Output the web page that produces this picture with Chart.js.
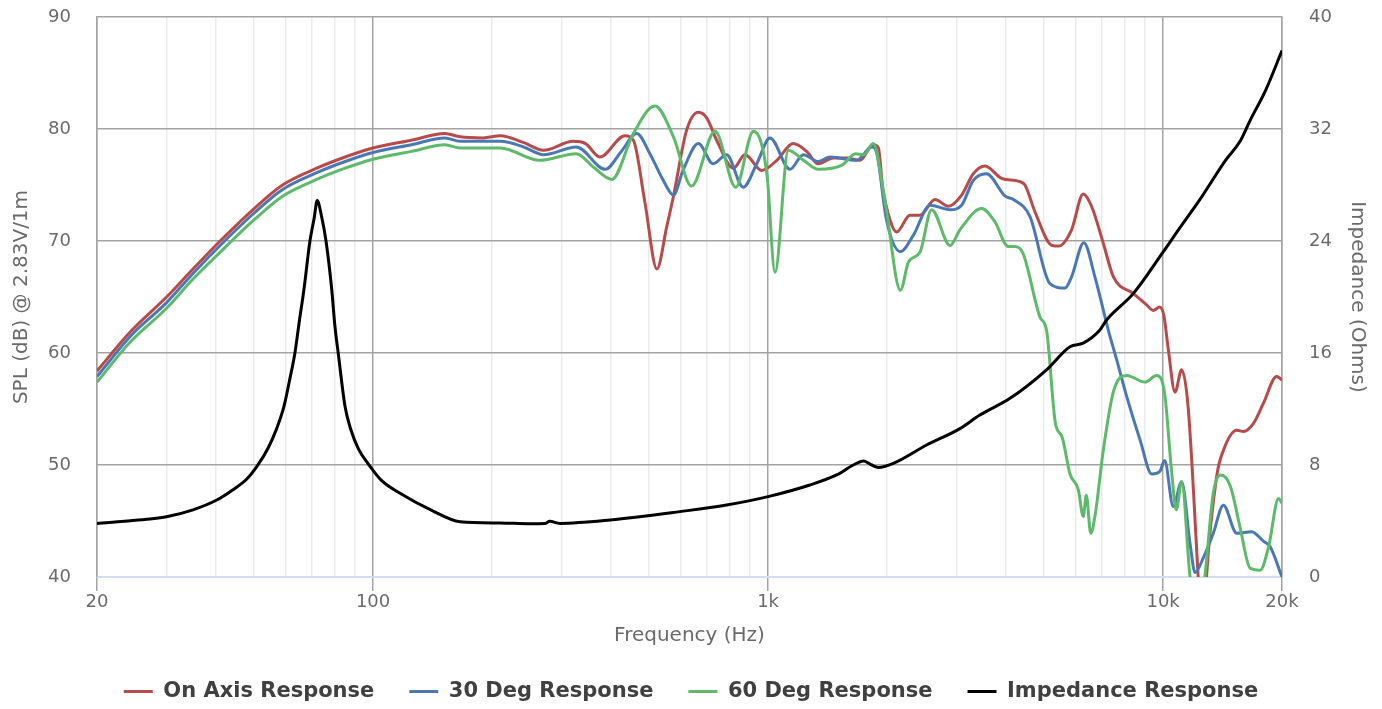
<!DOCTYPE html>
<html>
<head>
<meta charset="utf-8">
<script src="https://cdn.jsdelivr.net/npm/chart.js@4.4.1/dist/chart.umd.min.js"></script>
<style>
  html, body { margin: 0; padding: 0; background: #ffffff; }
  #wrap { width: 1382px; height: 709px; }
</style>
</head>
<body>
<div id="wrap"><canvas id="c" width="1382" height="709"></canvas></div>
<script>
// ---- Data ----
const onAxisFreq = [20,24.3,30,35,41,50,59,72,85,100,125,152,166,190,210,240,270,321,345,375,434,456,488,523,554,576,622,666,699,741,817,874,964,1052,1158,1252,1339,1462,1579,1708,1846,1902,1950,2035,2116,2286,2424,2646,2858,3090,3307,3540,3900,4342,4470,4751,5236,5440,5865,6278,6590,7056,7486,8413,9084,9440,9800,10050,10310,10720,11140,11570,12270,12600,12880,13666,14210,15360,15970,16920,17940,19390,20000];
const onAxisSpl = [58.4,61.9,65.0,67.5,70.0,72.9,75.0,76.5,77.5,78.3,79.0,79.6,79.3,79.2,79.4,78.8,78.1,78.9,78.7,77.5,79.4,79.0,73.4,67.5,71.3,74.0,79.9,81.5,81.0,79.0,76.5,77.7,76.3,77.2,78.7,78.0,76.9,77.4,77.4,77.2,78.6,78.3,74.8,71.9,70.8,72.3,72.3,73.7,73.1,74.1,76.0,76.7,75.6,75.3,75.0,72.5,69.6,69.55,71.0,74.2,73.1,69.8,66.8,65.3,64.3,63.8,64.1,63.3,60.3,56.5,58.5,55.2,40.0,33.0,40.0,49.0,51.3,53.1,53.0,53.7,55.5,57.9,57.6];

const deg30Freq = [20,24.3,30,35,41,50,59,72,85,100,125,152,166,210,240,270,327,387,425,465,502,543,576,609,666,726,785,865,936,1011,1136,1228,1339,1435,1676,1830,1885,1994,2163,2331,2570,2888,3090,3307,3570,3985,4180,4600,5170,5647,5865,6300,6720,7265,7629,8090,8750,9360,9800,10090,10610,11140,11700,12050,12640,13400,14210,15360,16760,17940,18670,20000];
const deg30Spl = [57.9,61.5,64.5,67.1,69.6,72.5,74.6,76.1,77.1,77.9,78.6,79.2,78.9,78.9,78.4,77.7,78.4,76.4,78.0,79.6,77.8,75.4,74.1,76.3,78.7,76.9,77.7,74.8,76.9,79.2,76.4,77.7,77.1,77.5,77.2,78.4,77.8,71.9,69.05,70.5,73.2,72.8,73.2,75.4,76.0,74.0,73.7,72.2,66.2,65.8,66.8,69.85,66.8,62.05,59.4,56.1,52.2,49.2,49.4,50.4,46.3,48.5,43.0,40.4,41.7,43.9,46.4,43.9,44.05,43.2,42.7,40.0];

const deg60Freq = [20,24.3,30,35,41,50,59,72,85,100,125,152,166,210,264,327,361,402,456,517,576,640,734,828,918,993,1041,1125,1230,1339,1543,1665,1745,1846,1980,2163,2268,2424,2594,2888,3060,3473,3753,4055,4210,4420,4880,5070,5340,5550,5812,6100,6278,6390,6560,6740,7056,7486,8090,9000,9620,10090,10500,10800,11140,11700,12200,12750,13400,14000,14800,15650,16600,17600,18500,19600,20000];
const deg60Spl = [57.4,61.0,64.0,66.6,69.0,71.9,74.0,75.5,76.5,77.3,78.0,78.6,78.3,78.3,77.2,77.8,76.6,75.5,79.6,82.05,79.3,74.9,79.8,74.8,79.8,76.0,67.2,78.1,77.2,76.4,76.8,77.8,77.7,78.7,73.4,65.6,68.15,69.0,72.8,69.6,71.0,72.9,71.7,69.5,69.5,68.9,63.2,62.0,53.7,52.5,49.2,47.8,45.4,47.3,43.9,45.7,51.3,56.55,58.0,57.4,58.0,56.4,49.55,46.0,48.5,40.0,36.0,40.0,47.5,49.1,48.1,44.5,40.8,40.6,42.7,47.0,46.6];

const impFreq = [20,25,30,35,40.2,44,47.9,50.8,54.2,57,59.5,61.4,63.4,65,66.8,69.2,70.9,72.2,74.0,76.0,78.6,80,81.6,84.9,87.9,92,97.3,105,117,140,166,210,250,272,280,297,398,598,785,1000,1276,1491,1644,1745,1830,1902,2075,2520,3060,3436,4097,5070,5812,6275,6900,7194,8413,9995,11000,12350,14420,15650,16600,18200,20000];
const impOhm = [3.83,4.05,4.31,4.8,5.5,6.2,7.0,7.9,9.2,10.6,12.2,14.0,16.0,18.2,20.5,24.0,25.6,26.9,25.8,24.0,20.5,18.0,16.0,12.2,10.5,9.1,8.07,6.9,5.98,4.79,3.95,3.86,3.8,3.82,3.98,3.83,4.07,4.67,5.14,5.74,6.57,7.29,8.0,8.29,8.0,7.83,8.12,9.43,10.6,11.57,12.76,14.8,16.45,16.7,17.6,18.36,20.26,23.2,24.9,26.9,29.8,31.1,32.6,34.8,37.6];

const seriesNames = ['On Axis Response', '30 Deg Response', '60 Deg Response', 'Impedance Response'];
const xGridValues = [20,30,40,50,60,70,80,90,100,200,300,400,500,600,700,800,900,1000,2000,3000,4000,5000,6000,7000,8000,9000,10000,20000];
const xTickLabels = {20: '20', 100: '100', 1000: '1k', 10000: '10k', 20000: '20k'};
const majorX = [20, 100, 1000, 10000, 20000];

// ---- Build chart ----
const pts = (xs, ys) => xs.map((x, i) => ({ x: x, y: ys[i] }));
const GRID = '#a3a3a3';
const MINOR = '#ececec';
const BASE = '#d3def0';
const TXT = '#6a6a6a';

const lineDs = (label, data, color, axis, order) => ({
  label, data, borderColor: color, backgroundColor: color, borderWidth: 3,
  pointRadius: 0, pointHoverRadius: 0, fill: false,
  cubicInterpolationMode: 'monotone', yAxisID: axis, order
});

new Chart(document.getElementById('c'), {
  type: 'line',
  data: {
    datasets: [
      lineDs(seriesNames[0], pts(onAxisFreq, onAxisSpl), '#b84a4a', 'y', 4),
      lineDs(seriesNames[1], pts(deg30Freq, deg30Spl), '#4a78b5', 'y', 3),
      lineDs(seriesNames[2], pts(deg60Freq, deg60Spl), '#5cba6a', 'y', 2),
      lineDs(seriesNames[3], pts(impFreq, impOhm), '#000000', 'y1', 1)
    ]
  },
  options: {
    responsive: false,
    animation: false,
    devicePixelRatio: 1,
    layout: { padding: { top: 17, left: 0, right: 0, bottom: 0 } },
    plugins: {
      tooltip: { enabled: false },
      legend: {
        position: 'bottom',
        maxHeight: 63,
        labels: {
          usePointStyle: true,
          pointStyle: 'line',
          pointStyleWidth: 29,
          padding: 35,
          color: '#404040',
          font: { family: 'DejaVu Sans', size: 21, weight: 'bold' },
          sort: (a, b) => a.datasetIndex - b.datasetIndex
        }
      }
    },
    scales: {
      x: {
        type: 'logarithmic',
        min: 20, max: 20000,
        afterBuildTicks: (s) => { s.ticks = xGridValues.map(v => ({ value: v })); },
        afterFit: (s) => { s.height = 69; },
        ticks: {
          autoSkip: false, maxRotation: 0, minRotation: 0, padding: 1,
          color: TXT, font: { family: 'DejaVu Sans', size: 18 },
          callback: (v) => xTickLabels[v] || ''
        },
        grid: {
          lineWidth: 1.5,
          color: (c) => (c.tick && majorX.includes(c.tick.value)) ? GRID : MINOR,
          tickColor: (c) => (c.tick && majorX.includes(c.tick.value)) ? GRID : 'rgba(0,0,0,0)',
          tickLength: 14,
          drawTicks: true
        },
        border: { display: true, color: BASE, width: 2 },
        title: {
          display: true, text: 'Frequency (Hz)', color: TXT,
          font: { family: 'DejaVu Sans', size: 20, lineHeight: 1 },
          padding: { top: 0, bottom: 0 }
        }
      },
      y: {
        type: 'linear', position: 'left',
        min: 40, max: 90,
        afterFit: (s) => { s.width = 97; s.paddingTop = 0; s.paddingBottom = 0; },
        ticks: { stepSize: 10, padding: 26, color: TXT, font: { family: 'DejaVu Sans', size: 18 } },
        grid: {
          lineWidth: 1.5,
          color: (c) => (c.tick && c.tick.value === 40) ? 'rgba(0,0,0,0)' : GRID,
          drawTicks: false
        },
        border: { display: true, color: GRID, width: 1.5 },
        title: {
          display: true, text: 'SPL (dB) @ 2.83V/1m', color: TXT,
          font: { family: 'DejaVu Sans', size: 20, lineHeight: 1 },
          padding: { top: 12, bottom: 0 }
        }
      },
      y1: {
        type: 'linear', position: 'right',
        min: 0, max: 40,
        afterFit: (s) => { s.width = 100; s.paddingTop = 0; s.paddingBottom = 0; },
        ticks: { stepSize: 8, padding: 27, color: TXT, font: { family: 'DejaVu Sans', size: 18 } },
        grid: { drawOnChartArea: false, drawTicks: false },
        border: { display: true, color: GRID, width: 1.5 },
        title: {
          display: true, text: 'Impedance (Ohms)', color: TXT,
          font: { family: 'DejaVu Sans', size: 20, lineHeight: 1 },
          padding: { top: 15, bottom: 0 }
        }
      }
    }
  }
});
</script>
</body>
</html>
